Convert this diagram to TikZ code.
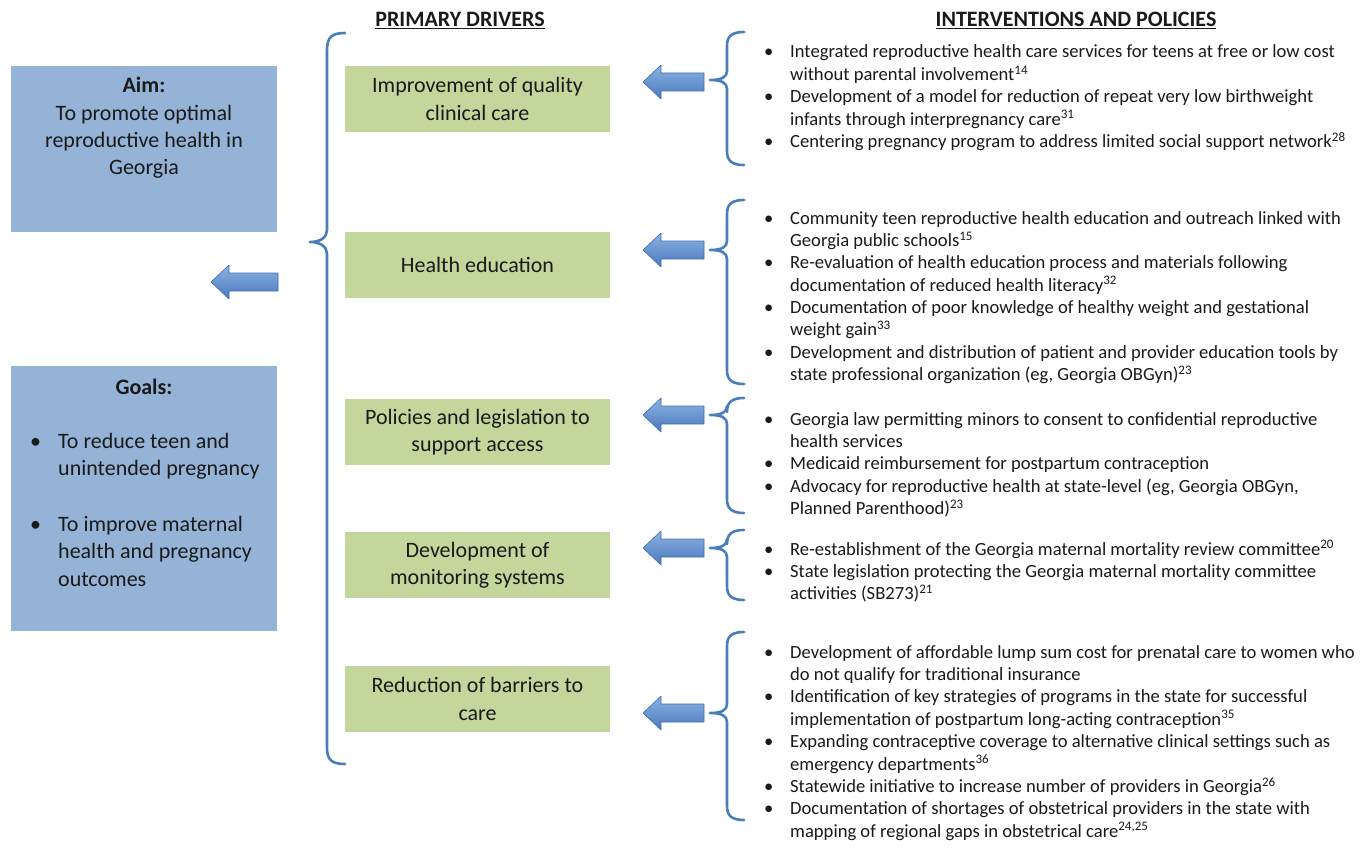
\documentclass[tikz,border=0pt]{standalone}
\usepackage{fontspec}
\setmainfont{Carlito}
\definecolor{boxblue}{HTML}{95B3D7}
\definecolor{boxgreen}{HTML}{C3D69B}
\definecolor{bracecol}{HTML}{4A7EBB}
\definecolor{arrowlight}{HTML}{8DB3E2}
\definecolor{arrowdark}{HTML}{4A78BE}
\definecolor{arrowedge}{HTML}{3F6DB0}
\definecolor{textcol}{HTML}{1A1A1A}
\newcommand\bul{\makebox[26pt][l]{\textbullet}}
\newcommand\gbul{\makebox[28pt][l]{\textbullet}}
\newcommand\sref[1]{\textsuperscript{#1}}
\newcommand\mybrace[3]{\draw[bracestyle] (744,#1) .. controls (732,#1) and (727,#1+4) .. (727,#1+14) -- (727,#2-9) .. controls (727,#2-3) and (722,#2) .. (710,#2) .. controls (722,#2) and (727,#2+3) .. (727,#2+9) -- (727,#3-14) .. controls (727,#3-4) and (732,#3) .. (744,#3);}
\begin{document}
\begin{tikzpicture}[x=1pt,y=-1pt,
  every node/.style={inner sep=0pt, text=textcol},
  bluebox/.style={fill=boxblue, draw=none, minimum width=266pt},
  greenbox/.style={fill=boxgreen, draw=none, minimum width=265pt, minimum height=66pt, align=center, font=\fontsize{22}{27.5}\selectfont},
  bigtext/.style={font=\fontsize{22}{27.5}\selectfont, anchor=base west},
  itemtext/.style={font=\fontsize{18.6}{22.4}\selectfont, anchor=base west},
  headtext/.style={font=\fontsize{22}{24}\selectfont\bfseries, anchor=base},
  bracestyle/.style={draw=bracecol, line width=2.6pt, line cap=round, line join=round},
  arrowstyle/.style={top color=arrowlight, bottom color=arrowdark, draw=arrowedge, line width=0.6pt, line join=round},
  blockarrow/.pic={\path[arrowstyle] (0,0) -- (18,-17) -- (18,-9) -- (#1,-9) -- (#1,9) -- (18,9) -- (18,17) -- cycle;},
]
\useasboundingbox[fill=white] (0,0) rectangle (1371,848);

% left column
\node[bluebox, minimum height=166pt] (aim) at (144,149) {};
\node[anchor=base, font=\fontsize{22}{27.3}\selectfont] (aimtext) at (144,93)
  {\begin{tabular}[t]{@{}c@{}}\textbf{Aim:}\\ To promote optimal\\ reproductive health in\\ Georgia\end{tabular}};
\node[bluebox, minimum height=265pt] (goals) at (144,498.5) {};
\node[anchor=base, font=\fontsize{22}{27}\selectfont\bfseries] (goalshead) at (144,394) {Goals:};
\node[bigtext] (goal1) at (30,448) {\begin{tabular}[t]{@{}l@{}l@{}}\gbul & To reduce teen and\\ & unintended pregnancy\end{tabular}};
\node[bigtext] (goal2) at (30,531) {\begin{tabular}[t]{@{}l@{}l@{}}\gbul & To improve maternal\\ & health and pregnancy\\ & outcomes\end{tabular}};
\pic (mainarrow) at (211,282) {blockarrow=67};

% big brace
\draw[bracestyle] (345,33) .. controls (332,33) and (327,37) .. (327,50) -- (327,230) .. controls (327,237) and (321,242) .. (310,242) .. controls (321,242) and (327,247) .. (327,254) -- (327,748) .. controls (327,760) and (332,764) .. (345,764);

% headers
\node[headtext] (hdrivers) at (460,27) {\underline{PRIMARY DRIVERS}};
\node[headtext] (hinterv) at (1076,27) {\underline{INTERVENTIONS AND POLICIES}};

% primary drivers
\node[greenbox] (d1) at (477.5,99) {Improvement of quality\\ clinical care};
\node[greenbox] (d2) at (477.5,265) {Health education};
\node[greenbox] (d3) at (477.5,432) {Policies and legislation to\\ support access};
\node[greenbox] (d4) at (477.5,565) {Development of\\ monitoring systems};
\node[greenbox] (d5) at (477.5,699) {Reduction of barriers to\\ care};

% small arrows
\pic (a1) at (643,82) {blockarrow=61};
\pic (a2) at (643,250) {blockarrow=61};
\pic (a3) at (643,415) {blockarrow=61};
\pic (a4) at (643,548) {blockarrow=61};
\pic (a5) at (643,713) {blockarrow=61};

% right braces
\mybrace{32}{80}{165}
\mybrace{200}{250}{384}
\mybrace{398}{415}{513}
\mybrace{530}{548}{600}
\mybrace{632}{713}{820}

% interventions
\node[itemtext] (i1) at (764,58) {\begin{tabular}[t]{@{}l@{}l@{}}
\bul & Integrated reproductive health care services for teens at free or low cost\\
 & without parental involvement\sref{14}\\
\bul & Development of a model for reduction of repeat very low birthweight\\
 & infants through interpregnancy care\sref{31}\\
\bul & Centering pregnancy program to address limited social support network\sref{28}
\end{tabular}};
\node[itemtext] (i2) at (764,224) {\begin{tabular}[t]{@{}l@{}l@{}}
\bul & Community teen reproductive health education and outreach linked with\\
 & Georgia public schools\sref{15}\\
\bul & Re-evaluation of health education process and materials following\\
 & documentation of reduced health literacy\sref{32}\\
\bul & Documentation of poor knowledge of healthy weight and gestational\\
 & weight gain\sref{33}\\
\bul & Development and distribution of patient and provider education tools by\\
 & state professional organization (eg, Georgia OBGyn)\sref{23}
\end{tabular}};
\node[itemtext] (i3) at (764,425) {\begin{tabular}[t]{@{}l@{}l@{}}
\bul & Georgia law permitting minors to consent to confidential reproductive\\
 & health services\\
\bul & Medicaid reimbursement for postpartum contraception\\
\bul & Advocacy for reproductive health at state-level (eg, Georgia OBGyn,\\
 & Planned Parenthood)\sref{23}
\end{tabular}};
\node[itemtext] (i4) at (764,555) {\begin{tabular}[t]{@{}l@{}l@{}}
\bul & Re-establishment of the Georgia maternal mortality review committee\sref{20}\\
\bul & State legislation protecting the Georgia maternal mortality committee\\
 & activities (SB273)\sref{21}
\end{tabular}};
\node[itemtext] (i5) at (764,658) {\begin{tabular}[t]{@{}l@{}l@{}}
\bul & Development of affordable lump sum cost for prenatal care to women who\\
 & do not qualify for traditional insurance\\
\bul & Identification of key strategies of programs in the state for successful\\
 & implementation of postpartum long-acting contraception\sref{35}\\
\bul & Expanding contraceptive coverage to alternative clinical settings such as\\
 & emergency departments\sref{36}\\
\bul & Statewide initiative to increase number of providers in Georgia\sref{26}\\
\bul & Documentation of shortages of obstetrical providers in the state with\\
 & mapping of regional gaps in obstetrical care\sref{24,25}
\end{tabular}};
\end{tikzpicture}
\end{document}
